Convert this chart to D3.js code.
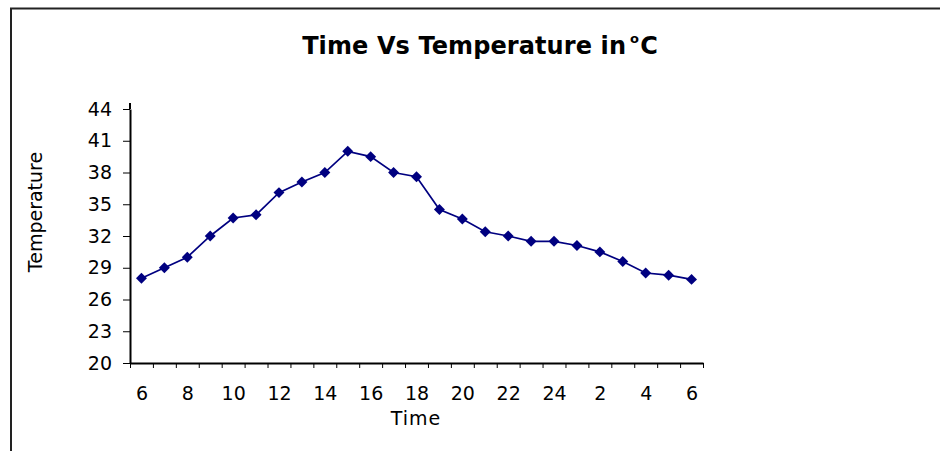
<!DOCTYPE html>
<html lang="en">
<head>
  <meta charset="UTF-8" />
  <title>Time Vs Temperature</title>
  <script src="https://d3js.org/d3.v7.min.js"></script>
  <style>
    body {
      margin: 0;
      background: #fff;
      font-family: "DejaVu Sans", Arial, sans-serif;
    }
    .axis path, .axis line {
      stroke: #000;
    }
    .axis text {
      font-family: "DejaVu Sans", Arial, sans-serif;
      font-size: 19px;
      fill: #000;
    }
  </style>
</head>
<body>

<svg id="chart" width="940" height="451"></svg>

<script>
// hours of the day, from 6 in the morning to 6 the next morning
const times = ["6", "7", "8", "9", "10", "11", "12", "13", "14", "15", "16", "17", "18",
               "19", "20", "21", "22", "23", "24", "1", "2", "3", "4", "5", "6"];
const temps = [28.0, 29.0, 30.0, 32.0, 33.7, 34.0, 36.1, 37.1, 38.0, 40.0, 39.5, 38.0, 37.6,
               34.5, 33.6, 32.4, 32.0, 31.5, 31.5, 31.1, 30.5, 29.6, 28.5, 28.3, 27.9];
const yTicks = [20, 23, 26, 29, 32, 35, 38, 41, 44];

const svg = d3.select("#chart");

// frame of the chart area (top and left edge only)
svg.append("line")
  .attr("x1", 10).attr("y1", 8.5).attr("x2", 940).attr("y2", 8.5)
  .attr("stroke", "#222").attr("stroke-width", 2);
svg.append("line")
  .attr("x1", 11).attr("y1", 8).attr("x2", 11).attr("y2", 451)
  .attr("stroke", "#222").attr("stroke-width", 2);

// category index scale, ticks sit between categories
const x = d3.scaleLinear().domain([0, times.length]).range([130, 703]);
const y = d3.scaleLinear().domain([20, 44]).range([363, 109]);

const xTicks = svg.append("g")
    .attr("class", "axis")
    .attr("transform", "translate(0,363)")
    .call(d3.axisBottom(x)
      .tickValues(d3.range(times.length + 1))
      .tickFormat("")
      .tickSize(5)
      .tickSizeOuter(0));
xTicks.select(".domain").attr("stroke-width", 2);

const labelIdx = d3.range(0, times.length, 2);
const xLabels = svg.append("g")
    .attr("class", "axis")
    .attr("transform", "translate(0,363)")
    .call(d3.axisBottom(x)
      .tickValues(labelIdx.map(i => i + 0.5))
      .tickFormat(v => times[v - 0.5])
      .tickSize(0)
      .tickPadding(24));
xLabels.select(".domain").remove();

const yAxis = svg.append("g")
    .attr("class", "axis")
    .attr("transform", "translate(130,0)")
    .call(d3.axisLeft(y)
      .tickValues(yTicks)
      .tickSize(7)
      .tickPadding(11)
      .tickSizeOuter(0));
yAxis.select(".domain").attr("stroke-width", 2);
// the value axis runs a little past its top tick
yAxis.append("line")
  .attr("y1", y(44)).attr("y2", y(44) - 6)
  .attr("stroke", "#000").attr("stroke-width", 2);

// series
const line = d3.line()
  .x((d, i) => x(i + 0.5))
  .y(d => y(d));

svg.append("path")
  .datum(temps)
  .attr("fill", "none")
  .attr("stroke", "#000080")
  .attr("stroke-width", 1.7)
  .attr("d", line);

svg.append("g")
  .selectAll("path")
  .data(temps)
  .join("path")
    .attr("d", d3.symbol().type(d3.symbolSquare).size(60))
    .attr("transform", (d, i) => `translate(${x(i + 0.5)},${y(d)}) rotate(45)`)
    .attr("fill", "#000080");

// titles
const title = svg.append("text")
  .attr("x", 480)
  .attr("y", 54)
  .attr("text-anchor", "middle")
  .style("font-family", "'DejaVu Sans', Arial, sans-serif")
  .style("font-weight", "bold")
  .style("font-size", "24px")
  .style("letter-spacing", "0.1px");
title.append("tspan").text("Time Vs Temperature in");
title.append("tspan").attr("dx", 4).attr("dy", -11).style("font-size", "13px").text("o");
title.append("tspan").attr("dx", 1).attr("dy", 11).text("C");

svg.append("text")
  .attr("x", 416)
  .attr("y", 425)
  .attr("text-anchor", "middle")
  .style("font-size", "19px")
  .style("letter-spacing", "1px")
  .text("Time");

svg.append("text")
  .attr("transform", "translate(42,212) rotate(-90)")
  .attr("text-anchor", "middle")
  .style("font-size", "19px")
  .text("Temperature");
</script>

</body>
</html>
